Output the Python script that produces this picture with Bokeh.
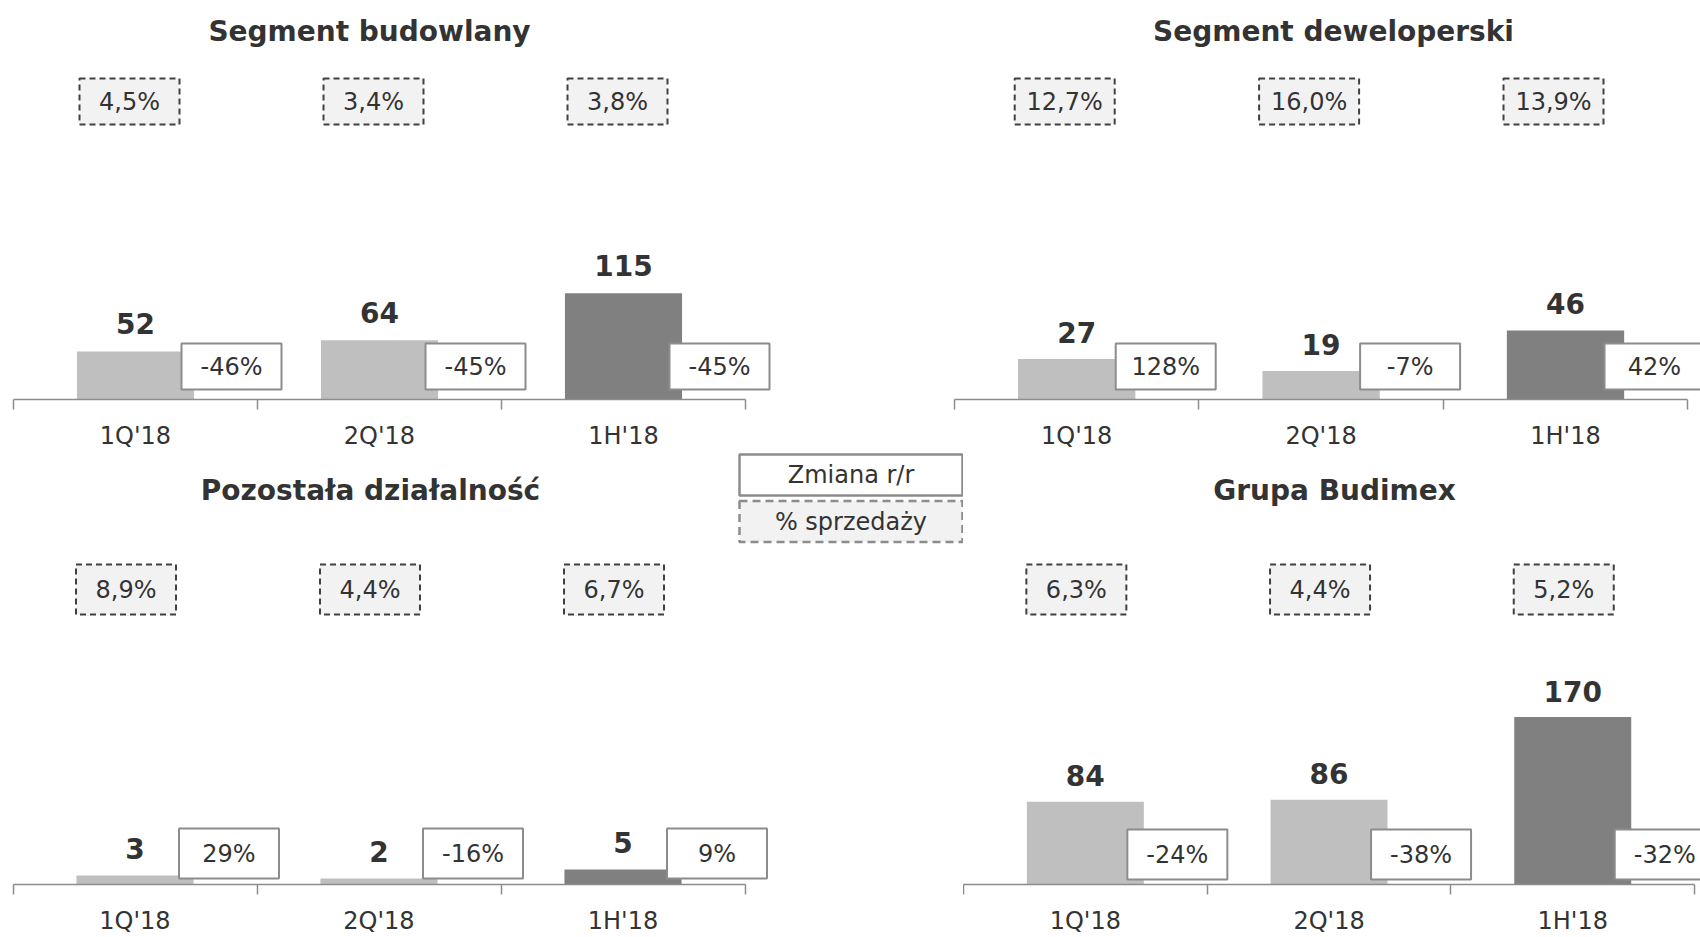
import numpy as np
from bokeh.plotting import figure
from bokeh.models import Range1d, LinearAxis, FixedTicker, ColumnDataSource, LabelSet
from bokeh.layouts import column, row
from bokeh.core.properties import value
from bokeh.embed import file_html
from bokeh.resources import INLINE

# ---------------- data ----------------
categories = ["1Q'18", "2Q'18", "1H'18"]

budowlany_title = "Segment budowlany"
budowlany_values = [52, 64, 115]
budowlany_change = ["-46%", "-45%", "-45%"]
budowlany_share = ["4,5%", "3,4%", "3,8%"]

deweloperski_title = "Segment deweloperski"
deweloperski_values = [27, 19, 46]
deweloperski_change = ["128%", "-7%", "42%"]
deweloperski_share = ["12,7%", "16,0%", "13,9%"]

pozostala_title = "Pozostała działalność"
pozostala_values = [3, 2, 5]
pozostala_change = ["29%", "-16%", "9%"]
pozostala_share = ["8,9%", "4,4%", "6,7%"]

grupa_title = "Grupa Budimex"
grupa_values = [84, 86, 170]
grupa_change = ["-24%", "-38%", "-32%"]
grupa_share = ["6,3%", "4,4%", "5,2%"]

legend_labels = ["Zmiana r/r", "% sprzedaży"]

# ---------------- styles ----------------
FONT = "DejaVu Sans"
TEXT = "#333333"
BAR_COLORS = ["#BFBFBF", "#BFBFBF", "#808080"]
AXIS_COLOR = "#8C8C8C"
AXIS_H = 53
TOP_FRAME = 399
TOP_H = TOP_FRAME + AXIS_H
BOTTOM_H = 937 - TOP_H
BOTTOM_FRAME = BOTTOM_H - AXIS_H


def panel(title, values, change, share, W, H, frame_h, axis_left, ppu, y_ppu,
          title_xy, share_cy, box_h, share_dx, change_dx, change_above, value_gap,
          legend=False):
    n = len(categories)
    idx = np.arange(n)
    x0 = -0.5 - axis_left / ppu
    p = figure(width=W, height=H,
               x_range=Range1d(x0, x0 + W / ppu),
               y_range=Range1d(0, frame_h / y_ppu),
               x_axis_location=None, y_axis_location=None,
               toolbar_location=None, output_backend="svg",
               min_border_left=0, min_border_right=0, min_border_top=0,
               min_border_bottom=H - frame_h,
               outline_line_color=None,
               background_fill_color="white", border_fill_color="white")
    p.grid.grid_line_color = None
    p.extra_x_ranges = {"px": Range1d(0, W)}
    p.extra_y_ranges = {"px": Range1d(frame_h, 0)}

    ax = LinearAxis(
        ticker=FixedTicker(ticks=[float(i) for i in idx],
                           minor_ticks=[float(i) - 0.5 for i in range(n + 1)]),
        bounds=(-0.5, n - 0.5),
        major_label_overrides={int(i): c for i, c in zip(idx, categories)},
        axis_line_color=AXIS_COLOR, axis_line_width=1.5,
        major_tick_line_color=None, major_tick_in=0, major_tick_out=0,
        minor_tick_line_color=AXIS_COLOR, minor_tick_line_width=1.5,
        minor_tick_in=-10, minor_tick_out=0,
        major_label_text_font=FONT, major_label_text_font_size="24px",
        major_label_text_color=TEXT, major_label_standoff=22,
    )
    p.add_layout(ax, "below")

    # bars
    p.vbar(x=idx, top=values, bottom=0, width=0.48,
           fill_color=BAR_COLORS, line_color=None)

    # value labels
    src = ColumnDataSource(dict(x=idx, y=values, t=[str(v) for v in values]))
    p.add_layout(LabelSet(x="x", y="y", text="t", source=src, y_offset=value_gap,
                          text_align="center", text_baseline="middle",
                          text_font=value(FONT), text_font_style="bold",
                          text_font_size="28px", text_color=TEXT))

    # % of sales boxes (top)
    sx = idx + share_dx / ppu
    sy = [share_cy] * n
    p.rect(x=sx, y=sy, width=100, height=box_h, width_units="screen",
           height_units="screen", y_range_name="px",
           fill_color="#F2F2F2", line_color="#404040", line_dash="6 4", line_width=2)
    p.text(x=sx, y=sy, text=share, y_range_name="px",
           text_align="center", text_baseline="middle",
           text_font=value(FONT), text_font_size="24px", text_color=TEXT)

    # y/y change boxes
    cx = idx + change_dx / ppu
    cy = [frame_h - change_above] * n
    p.rect(x=cx, y=cy, width=100, height=box_h, width_units="screen",
           height_units="screen", y_range_name="px",
           fill_color="white", line_color=AXIS_COLOR, line_width=2)
    p.text(x=cx, y=cy, text=change, y_range_name="px",
           text_align="center", text_baseline="middle",
           text_font=value(FONT), text_font_size="24px", text_color=TEXT)

    # title
    p.text(x=[title_xy[0]], y=[title_xy[1]], text=[title],
           x_range_name="px", y_range_name="px",
           text_align="center", text_baseline="middle",
           text_font=value(FONT), text_font_style="bold",
           text_font_size="28px", text_color=TEXT)

    if legend:
        lx = [850.5, 850.5]
        ly = [22.5, 69]
        p.rect(x=lx[:1], y=ly[:1], width=223, height=41, x_range_name="px",
               y_range_name="px", fill_color="white", line_color=AXIS_COLOR,
               line_width=2.5)
        p.rect(x=lx[1:], y=ly[1:], width=223, height=41, x_range_name="px",
               y_range_name="px", fill_color="#F2F2F2", line_color=AXIS_COLOR,
               line_width=2.5, line_dash="8 5")
        p.text(x=lx, y=ly, text=legend_labels, x_range_name="px", y_range_name="px",
               text_align="center", text_baseline="middle",
               text_font=value(FONT), text_font_size="24px", text_color=TEXT)
    return p


tl = panel(budowlany_title, budowlany_values, budowlany_change, budowlany_share,
           W=850, H=TOP_H, frame_h=TOP_FRAME, axis_left=13, ppu=244, y_ppu=0.925,
           title_xy=(369, 31), share_cy=101, box_h=46, share_dx=-6, change_dx=96,
           change_above=33, value_gap=28)
tr = panel(deweloperski_title, deweloperski_values, deweloperski_change, deweloperski_share,
           W=850, H=TOP_H, frame_h=TOP_FRAME, axis_left=104, ppu=244.4, y_ppu=1.5,
           title_xy=(483, 31), share_cy=101, box_h=46, share_dx=-12, change_dx=89,
           change_above=33, value_gap=27)
bl = panel(pozostala_title, pozostala_values, pozostala_change, pozostala_share,
           W=963, H=BOTTOM_H, frame_h=BOTTOM_FRAME, axis_left=12.5, ppu=244, y_ppu=3.0,
           title_xy=(370, 489 - TOP_H + 1), share_cy=589 - TOP_H, box_h=50,
           share_dx=-9, change_dx=94, change_above=31, value_gap=27, legend=True)
br = panel(grupa_title, grupa_values, grupa_change, grupa_share,
           W=737, H=BOTTOM_H, frame_h=BOTTOM_FRAME, axis_left=0, ppu=243.7, y_ppu=0.985,
           title_xy=(371, 489 - TOP_H + 1), share_cy=589 - TOP_H, box_h=50,
           share_dx=-9, change_dx=92, change_above=30, value_gap=26)

layout = column(row(tl, tr), row(bl, br))
open("out.html", "w").write(file_html(layout, INLINE))
